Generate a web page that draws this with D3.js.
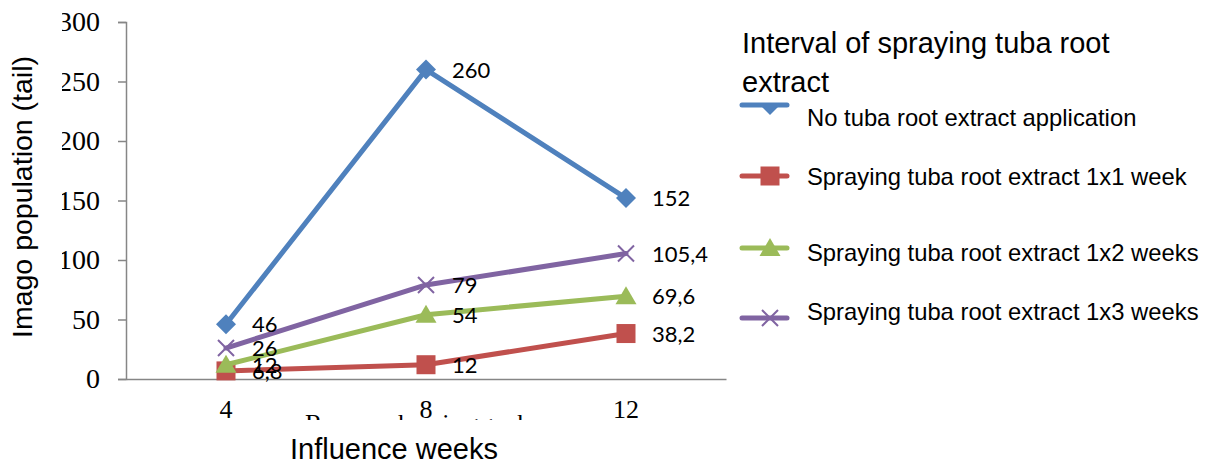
<!DOCTYPE html>
<html>
<head>
<meta charset="utf-8">
<script src="https://cdn.jsdelivr.net/npm/d3@7"></script>
<style>
  html, body { margin: 0; padding: 0; background: #fff; }
  svg { display: block; }
</style>
</head>
<body>
<svg id="chart" width="1216" height="463"></svg>
<script>
// Observation weeks and imago counts per spraying interval
const weeks = [4, 8, 12];
const noExtract = [46, 260, 152];
const spray1x1 = [6.8, 12, 38.2];
const spray1x2 = [12, 54, 69.6];
const spray1x3 = [26, 79, 105.4];
const yTicks = [0, 50, 100, 150, 200, 250, 300];

const seriesNames = [
  "No tuba root extract application",
  "Spraying tuba root extract 1x1 week",
  "Spraying tuba root extract 1x2 weeks",
  "Spraying tuba root extract 1x3 weeks"
];
const seriesValues = [noExtract, spray1x1, spray1x2, spray1x3];
const seriesColors = ["#4F81BD", "#C0504D", "#9BBB59", "#8064A2"];
const seriesMarkers = ["diamond", "square", "triangle", "cross"];

const series = seriesNames.map((name, i) => ({
  name, values: seriesValues[i], color: seriesColors[i], marker: seriesMarkers[i]
}));

const svg = d3.select("#chart");
const axisColor = "#868686";

const x = d3.scaleBand().domain(weeks).range([126, 726]);
const y = d3.scaleLinear().domain([0, 300]).range([379, 22]);
const cx = w => x(w) + x.bandwidth() / 2;

const defs = svg.append("defs");
defs.append("clipPath").attr("id", "tickClip")
  .append("rect").attr("x", 62).attr("y", 0).attr("width", 1154).attr("height", 463);
defs.append("clipPath").attr("id", "hiddenTitleClip")
  .append("rect").attr("x", 0).attr("y", 0).attr("width", 1216).attr("height", 420);
defs.append("clipPath").attr("id", "legendDiamondClip")
  .append("rect").attr("x", 730).attr("y", 103).attr("width", 100).attr("height", 40);

// Y axis (left edge of the tick labels is trimmed)
const yAxis = svg.append("g")
  .attr("clip-path", "url(#tickClip)")
  .append("g")
  .attr("transform", "translate(126,0)")
  .call(d3.axisLeft(y).tickValues(yTicks).tickSize(8).tickPadding(18).tickFormat(d3.format("d")));
yAxis.select(".domain").attr("stroke", axisColor).attr("stroke-width", 1.5);
yAxis.selectAll(".tick line").attr("stroke", axisColor).attr("stroke-width", 1.5);
yAxis.selectAll(".tick text")
  .attr("fill", "#000")
  .style("font-family", "'Liberation Serif', 'Times New Roman', serif")
  .style("font-size", "28px");

// X axis
const xAxis = svg.append("g")
  .attr("transform", "translate(0,379)")
  .call(d3.axisBottom(x).tickSize(0).tickPadding(21).tickSizeOuter(0));
xAxis.select(".domain").attr("stroke", axisColor).attr("stroke-width", 1.5);
xAxis.selectAll(".tick text")
  .attr("fill", "#000")
  .style("font-family", "'Liberation Serif', 'Times New Roman', serif")
  .style("font-size", "26px");

// Partly hidden axis caption
svg.append("text")
  .attr("clip-path", "url(#hiddenTitleClip)")
  .attr("x", 305).attr("y", 432)
  .attr("textLength", 238)
  .style("font-family", "'Liberation Serif', 'Times New Roman', serif")
  .style("font-size", "26px")
  .text("Research minggu ke");

// Axis titles
svg.append("text")
  .attr("transform", "translate(32,197) rotate(-90)")
  .attr("text-anchor", "middle")
  .style("font-family", "'Liberation Sans', Arial, sans-serif")
  .style("font-size", "28.5px")
  .text("Imago population (tail)");

svg.append("text")
  .attr("x", 394).attr("y", 459)
  .attr("text-anchor", "middle")
  .style("font-family", "'Liberation Sans', Arial, sans-serif")
  .style("font-size", "29px")
  .text("Influence weeks");

// Marker drawing
function drawMarker(g, type, color) {
  if (type === "diamond") {
    g.append("path").attr("d", "M0,-10L10,0L0,10L-10,0Z").attr("fill", color);
  } else if (type === "square") {
    g.append("rect").attr("x", -9.5).attr("y", -9.5).attr("width", 19).attr("height", 19).attr("fill", color);
  } else if (type === "triangle") {
    g.append("path").attr("d", "M0,-10L10.5,8L-10.5,8Z").attr("fill", color);
  } else if (type === "cross") {
    g.append("path").attr("d", "M-8,-8L8,8M-8,8L8,-8")
      .attr("stroke", color).attr("stroke-width", 2).attr("fill", "none");
  }
}

const line = d3.line().x((d, i) => cx(weeks[i])).y(d => y(d));

const plot = svg.append("g");
series.forEach(s => {
  plot.append("path")
    .datum(s.values)
    .attr("d", line)
    .attr("fill", "none")
    .attr("stroke", s.color)
    .attr("stroke-width", 5)
    .attr("stroke-linejoin", "round")
    .attr("stroke-linecap", "round");
  s.values.forEach((v, i) => {
    const g = plot.append("g").attr("transform", `translate(${cx(weeks[i])},${y(v)})`);
    drawMarker(g, s.marker, s.color);
  });
});

// Data labels
const fmt = v => String(v).replace(".", ",");
const labels = svg.append("g");
series.forEach(s => {
  s.values.forEach((v, i) => {
    labels.append("text")
      .attr("x", cx(weeks[i]) + 26)
      .attr("y", y(v) + 8)
      .style("font-family", "Lato, 'Open Sans', sans-serif")
      .style("font-size", "22px")
      .attr("fill", "#000")
      .text(fmt(v));
  });
});

// Legend
const legend = svg.append("g");
legend.append("text")
  .attr("x", 742).attr("y", 53)
  .style("font-family", "'Liberation Sans', Arial, sans-serif")
  .style("font-size", "29px")
  .text("Interval of spraying tuba root");
legend.append("text")
  .attr("x", 742).attr("y", 92)
  .style("font-family", "'Liberation Sans', Arial, sans-serif")
  .style("font-size", "29px")
  .text("extract");

const legendLineY = [105, 176, 248, 318];
const legendTextY = [126, 185, 261, 320];
series.forEach((s, i) => {
  const ly = legendLineY[i];
  legend.append("line")
    .attr("x1", 742).attr("x2", 787).attr("y1", ly).attr("y2", ly)
    .attr("stroke", s.color).attr("stroke-width", 5).attr("stroke-linecap", "round");
  const holder = legend.append("g");
  if (i === 0) holder.attr("clip-path", "url(#legendDiamondClip)");
  const g = holder.append("g").attr("transform", `translate(770,${ly})`);
  drawMarker(g, s.marker, s.color);
  legend.append("text")
    .attr("x", 807).attr("y", legendTextY[i])
    .style("font-family", "'Liberation Sans', Arial, sans-serif")
    .style("font-size", "23.8px")
    .text(s.name);
});
</script>
</body>
</html>
